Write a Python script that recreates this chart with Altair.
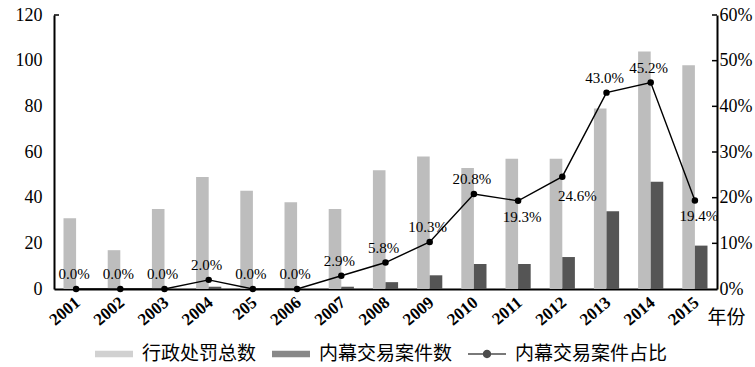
import altair as alt
import pandas as pd

# Year labels as printed on the category axis
years = ["2001", "2002", "2003", "2004", "205", "2006", "2007", "2008",
         "2009", "2010", "2011", "2012", "2013", "2014", "2015"]
# Total administrative penalties per year (left axis)
penalty_total = [31, 17, 35, 49, 43, 38, 35, 52, 58, 53, 57, 57, 79, 104, 98]
# Insider-trading cases per year (left axis)
insider_cases = [0, 0, 0, 1, 0, 0, 1, 3, 6, 11, 11, 14, 34, 47, 19]
# Share of insider-trading cases in all penalties (right axis)
insider_share = [0.0, 0.0, 0.0, 0.020, 0.0, 0.0, 0.029, 0.058, 0.103,
                 0.208, 0.193, 0.246, 0.430, 0.452, 0.194]

# Axis tick values
left_ticks = [0, 20, 40, 60, 80, 100, 120]
right_ticks = [0, 0.1, 0.2, 0.3, 0.4, 0.5, 0.6]

series = ["行政处罚总数", "内幕交易案件数", "内幕交易案件占比"]

bar_rows = []
for y, t, c in zip(years, penalty_total, insider_cases):
    bar_rows.append({"year": y, "series": series[0], "value": t})
    bar_rows.append({"year": y, "series": series[1], "value": c})
bar_df = pd.DataFrame(bar_rows)
share_df = pd.DataFrame({"year": years, "share": insider_share})
legend_df = pd.DataFrame({"series": series})

# labels drawn beneath their points
below = ["2011", "2015"]
below_right = ["2012"]

SERIF = "Liberation Serif"
CJK = "Noto Sans CJK SC"
W, H = 663, 274

palette = ["#bdbdbd", "#555555", "#000000"]
color_scale = alt.Scale(domain=series, range=palette)
bar_fill_scale = alt.Scale(domain=series[:2], range=palette[:2])
swatch = "M-1,-0.17H1V0.17H-1Z"
line_dot = ("M-1,-0.045H1V0.045H-1Z "
            "M-0.22,0A0.22,0.22 0 1,1 0.22,0A0.22,0.22 0 1,1 -0.22,0Z")
shape_scale = alt.Scale(domain=series, range=[swatch, swatch, line_dot])

x_enc = alt.X(
    "year:N", sort=years,
    scale=alt.Scale(paddingInner=0.43, paddingOuter=0.215),
    axis=alt.Axis(title="年份", labelAngle=-40, labelAlign="right",
                  labelBaseline="middle", labelFontSize=17,
                  labelFontWeight="bold", labelPadding=11, labelOffset=2,
                  titleX=653, titleY=34, titleAlign="left",
                  titleBaseline="alphabetic", titleAngle=0,
                  titleFont=CJK, titleFontSize=19, titleFontWeight="normal"),
)

left_y = alt.Y("value:Q", scale=alt.Scale(domain=[0, 120], nice=False),
               axis=alt.Axis(orient="left", title=None, values=left_ticks,
                             labelPadding=12))

bars = alt.Chart(bar_df).mark_bar().encode(
    x=x_enc,
    xOffset=alt.XOffset("series:N", sort=series[:2],
                        scale=alt.Scale(domain=series[:2], paddingInner=0,
                                        paddingOuter=0)),
    y=left_y,
    fill=alt.Fill("series:N", scale=bar_fill_scale, legend=None),
)

# short inward cap at the top of the left axis
left_cap = alt.Chart(pd.DataFrame({"value": left_ticks[-1:]})).mark_rule(
    color="black", strokeWidth=1.5
).encode(y=left_y, x=alt.value(0), x2=alt.value(5))

left = alt.layer(bars, left_cap)

right_y = alt.Y("share:Q", scale=alt.Scale(domain=[0, 0.6], nice=False),
                axis=alt.Axis(orient="right", title=None, format=".0%",
                              values=right_ticks, labelPadding=2))

share_base = alt.Chart(share_df).encode(x=x_enc, y=right_y)

share_line = share_base.mark_line(color="black", strokeWidth=1.4)
share_dots = share_base.mark_point(filled=True, color="black", size=42,
                                   opacity=1)

# inward tick marks on the right axis
right_ticks_layer = alt.Chart(
    pd.DataFrame({"share": right_ticks[1:]})
).mark_rule(color="black", strokeWidth=1.5).encode(
    y=right_y, x=alt.value(W - 5), x2=alt.value(W)
)

text_style = dict(font=SERIF, fontSize=15, color="black",
                  baseline="alphabetic")
labels_above = share_base.mark_text(dy=-10, dx=-2, **text_style).encode(
    text=alt.Text("share:Q", format=".1%")
).transform_filter(
    ~alt.FieldOneOfPredicate(field="year", oneOf=below + below_right)
)
labels_below = share_base.mark_text(dy=21, dx=4, **text_style).encode(
    text=alt.Text("share:Q", format=".1%")
).transform_filter(alt.FieldOneOfPredicate(field="year", oneOf=below))
labels_below_right = share_base.mark_text(dy=24, dx=15, **text_style).encode(
    text=alt.Text("share:Q", format=".1%")
).transform_filter(alt.FieldOneOfPredicate(field="year", oneOf=below_right))

legend_kw = dict(title=None, orient="none", legendX=41, legendY=320,
                 direction="horizontal", symbolSize=1444,
                 symbolStrokeWidth=0, labelFont=CJK, labelFontSize=19,
                 labelColor="black", labelOffset=9, columnPadding=15)
legend_layer = alt.Chart(legend_df).mark_point(filled=True, size=0).encode(
    color=alt.Color("series:N", scale=color_scale,
                    legend=alt.Legend(**legend_kw)),
    shape=alt.Shape("series:N", scale=shape_scale,
                    legend=alt.Legend(**legend_kw)),
)

right = alt.layer(share_line, share_dots, right_ticks_layer, labels_above,
                  labels_below, labels_below_right)

chart = alt.layer(left, right, legend_layer).resolve_scale(
    y="independent"
).properties(
    width=W, height=H,
    autosize=alt.AutoSizeParams(type="none"),
    padding={"left": 54, "top": 15, "right": 38, "bottom": 78},
).configure_view(stroke=None).configure_axis(
    labelFont=SERIF, labelFontSize=18, labelColor="black",
    domainColor="black", domainWidth=2, ticks=False, grid=False,
)

chart.save("out.html", embed_options={"renderer": "svg", "actions": False})
